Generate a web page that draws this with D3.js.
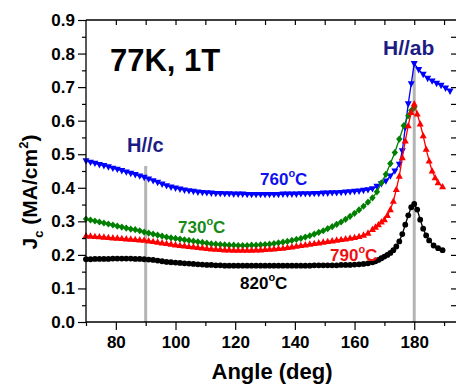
<!DOCTYPE html>
<html>
<head>
<meta charset="utf-8">
<script src="https://cdn.jsdelivr.net/npm/d3@7"></script>
<style>
  body { margin: 0; background: #fff; }
  svg text { font-family: Arial, "Liberation Sans", sans-serif; font-weight: bold; }
</style>
</head>
<body>
<div id="chart"></div>
<script>
// Data
const angles = [70, 71.5, 73, 74.5, 76, 77.5, 79, 80.5, 82, 83.5, 85, 86.5, 88, 89.5, 91, 92.5, 94, 95.5, 97, 98.5,
    100, 101.5, 103, 104.5, 106, 107.5, 109, 110.5, 112, 113.5, 115, 116.5, 118, 119.5, 121, 122.5, 124, 125.5, 127, 128.5,
    130, 131.5, 133, 134.5, 136, 137.5, 139, 140.5, 142, 143.5, 145, 146.5, 148, 149.5, 151, 152.5, 154, 155.5, 157, 158.5,
    160, 161.5, 163, 164.5, 166];

const jc760 = [0.480, 0.476, 0.473, 0.469, 0.466, 0.462, 0.458, 0.455, 0.451, 0.447, 0.443, 0.439, 0.435, 0.431, 0.426, 0.421, 0.416, 0.411, 0.406, 0.402,
    0.399, 0.396, 0.393, 0.391, 0.389, 0.387, 0.386, 0.385, 0.384, 0.383, 0.383, 0.382, 0.382, 0.381, 0.381, 0.381, 0.380, 0.380, 0.380, 0.380,
    0.380, 0.380, 0.380, 0.380, 0.381, 0.381, 0.381, 0.381, 0.382, 0.382, 0.382, 0.383, 0.383, 0.384, 0.384, 0.385, 0.385, 0.386, 0.387, 0.388,
    0.389, 0.390, 0.392, 0.394, 0.397];
const peak760Angles = [167.5, 169, 170.5, 172, 173.5, 175, 176, 177, 178, 179, 180, 181.5, 183, 184.5, 186, 187.5, 189, 190.5, 192];
const peak760 = [0.404, 0.412, 0.420, 0.435, 0.450, 0.470, 0.510, 0.580, 0.650, 0.710, 0.770, 0.752, 0.738, 0.726, 0.718, 0.711, 0.705, 0.697, 0.688];

const jc730 = [0.307, 0.304, 0.301, 0.298, 0.295, 0.292, 0.289, 0.286, 0.283, 0.280, 0.277, 0.275, 0.272, 0.268, 0.265, 0.262, 0.259, 0.256, 0.253, 0.251,
    0.249, 0.247, 0.245, 0.243, 0.241, 0.239, 0.237, 0.235, 0.233, 0.232, 0.231, 0.230, 0.229, 0.229, 0.228, 0.228, 0.228, 0.229, 0.229, 0.230,
    0.231, 0.232, 0.234, 0.236, 0.238, 0.240, 0.243, 0.246, 0.249, 0.253, 0.257, 0.262, 0.267, 0.272, 0.278, 0.284, 0.291, 0.298, 0.306, 0.315,
    0.324, 0.334, 0.345, 0.357, 0.370];
const peak730Angles = [167.5, 169, 170.5, 172, 173.5, 175, 176.5, 178, 179, 180];
const peak730 = [0.388, 0.415, 0.440, 0.472, 0.505, 0.545, 0.585, 0.615, 0.630, 0.640];

const jc790 = [0.257, 0.256, 0.255, 0.254, 0.253, 0.252, 0.251, 0.250, 0.249, 0.248, 0.247, 0.246, 0.245, 0.244, 0.242, 0.240, 0.238, 0.236, 0.234, 0.232,
    0.230, 0.228, 0.227, 0.225, 0.224, 0.222, 0.221, 0.219, 0.218, 0.217, 0.216, 0.215, 0.215, 0.214, 0.214, 0.214, 0.214, 0.214, 0.215, 0.215,
    0.216, 0.217, 0.218, 0.219, 0.220, 0.222, 0.224, 0.226, 0.228, 0.230, 0.232, 0.234, 0.236, 0.238, 0.240, 0.242, 0.244, 0.246, 0.248, 0.250,
    0.252, 0.255, 0.259, 0.265, 0.276];
const peak790Angles = [167, 168, 169, 170, 171, 172, 173, 174, 175, 176, 177, 178, 179, 180, 181, 182, 183, 184, 185, 186, 187, 188, 189.5];
const peak790 = [0.283, 0.290, 0.298, 0.305, 0.318, 0.335, 0.360, 0.395, 0.435, 0.490, 0.540, 0.585, 0.625, 0.650, 0.620, 0.590, 0.555, 0.515, 0.480, 0.450, 0.430, 0.415, 0.403];

const jc820 = [0.187, 0.187, 0.188, 0.188, 0.188, 0.188, 0.189, 0.189, 0.189, 0.189, 0.189, 0.188, 0.188, 0.187, 0.186, 0.185, 0.183, 0.181, 0.179, 0.178,
    0.177, 0.176, 0.175, 0.174, 0.173, 0.172, 0.171, 0.170, 0.170, 0.169, 0.169, 0.168, 0.168, 0.168, 0.168, 0.168, 0.168, 0.168, 0.168, 0.168,
    0.168, 0.168, 0.168, 0.168, 0.168, 0.168, 0.168, 0.168, 0.168, 0.168, 0.168, 0.169, 0.169, 0.169, 0.169, 0.169, 0.169, 0.170, 0.170, 0.170,
    0.171, 0.172, 0.173, 0.175, 0.178];
const peak820Angles = [167, 168, 169, 170, 171, 172, 173, 174, 175, 176, 177, 178, 179, 180, 181, 182, 183, 184, 185, 186.5, 188, 189.5];
const peak820 = [0.181, 0.185, 0.190, 0.195, 0.200, 0.206, 0.214, 0.225, 0.240, 0.262, 0.290, 0.318, 0.342, 0.352, 0.335, 0.305, 0.278, 0.258, 0.243, 0.228, 0.220, 0.214];

const xMajorTicks = [80, 100, 120, 140, 160, 180];
const xMinorTicks = [70, 90, 110, 130, 150, 170, 190];
const yMajorTicks = [0.0, 0.1, 0.2, 0.3, 0.4, 0.5, 0.6, 0.7, 0.8, 0.9];
const yMinorTicks = [0.05, 0.15, 0.25, 0.35, 0.45, 0.55, 0.65, 0.75, 0.85];
const guideAngles = [90, 180];
const guideTops = [0.465, 0.775];

// Build series
function series(base, peakA, peakV) {
    return angles.map((a, i) => ({ angle: a, value: base[i] }))
        .concat(peakA.map((a, i) => ({ angle: a, value: peakV[i] })));
}
const seriesList = [
    { name: "760", data: series(jc760, peak760Angles, peak760), color: "#0000ff", symbol: "down" },
    { name: "730", data: series(jc730, peak730Angles, peak730), color: "#008000", symbol: "diamond" },
    { name: "790", data: series(jc790, peak790Angles, peak790), color: "#ff0000", symbol: "up" },
    { name: "820", data: series(jc820, peak820Angles, peak820), color: "#000000", symbol: "circle" }
];

const W = 456, H = 385;
const svg = d3.select("#chart").append("svg")
    .attr("width", W)
    .attr("height", H);

const x = d3.scaleLinear().domain([70, 194]).range([86, 456]);
const y = d3.scaleLinear().domain([0, 0.9]).range([322, 20]);

// Grey guide lines (H//c and H//ab)
guideAngles.forEach((a, i) => {
    svg.append("line")
        .attr("x1", x(a)).attr("x2", x(a))
        .attr("y1", y(guideTops[i])).attr("y2", y(0))
        .style("stroke", "#b4b4b4")
        .style("stroke-width", 3);
});

// Lines and markers
const line = d3.line().x(d => x(d.angle)).y(d => y(d.value));
const tri = 7;
seriesList.forEach(s => {
    svg.append("path")
        .datum(s.data)
        .attr("d", line)
        .style("fill", "none")
        .style("stroke", s.color)
        .style("stroke-width", 1.3);

    const g = svg.append("g").style("fill", s.color);
    s.data.forEach(d => {
        const cx = x(d.angle), cy = y(d.value);
        if (s.symbol === "circle") {
            g.append("circle").attr("cx", cx).attr("cy", cy).attr("r", 2.9);
        } else if (s.symbol === "diamond") {
            g.append("path").attr("d", `M${cx},${cy - 3.6}L${cx + 3.2},${cy}L${cx},${cy + 3.6}L${cx - 3.2},${cy}Z`);
        } else if (s.symbol === "up") {
            g.append("path").attr("d", `M${cx},${cy - 3.8}L${cx + tri / 2},${cy + 2.6}L${cx - tri / 2},${cy + 2.6}Z`);
        } else {
            g.append("path").attr("d", `M${cx},${cy + 3.8}L${cx + tri / 2},${cy - 2.6}L${cx - tri / 2},${cy - 2.6}Z`);
        }
    });
});

// Axes
const axisStyle = g => {
    g.select(".domain").remove();
    g.selectAll(".tick line").style("stroke", "#000").style("stroke-width", 1.2);
    g.selectAll("text").style("font-size", "17px").style("fill", "#000");
};

svg.append("g")
    .attr("transform", "translate(0,322)")
    .call(d3.axisBottom(x).tickValues(xMajorTicks).tickSize(8).tickPadding(6).tickFormat(d3.format("d")))
    .call(axisStyle);
svg.append("g")
    .attr("transform", "translate(0,322)")
    .call(d3.axisBottom(x).tickValues(xMinorTicks).tickSize(4).tickFormat(""))
    .call(axisStyle);

svg.append("g")
    .attr("transform", "translate(86,0)")
    .call(d3.axisLeft(y).tickValues(yMajorTicks).tickSize(8).tickPadding(3).tickFormat(d3.format(".1f")))
    .call(axisStyle);
svg.append("g")
    .attr("transform", "translate(86,0)")
    .call(d3.axisLeft(y).tickValues(yMinorTicks).tickSize(4).tickFormat(""))
    .call(axisStyle);

// Mirror axes (ticks pointing inward)
svg.append("g")
    .attr("transform", "translate(0,20)")
    .call(d3.axisBottom(x).tickValues(xMajorTicks.concat(xMinorTicks).filter(d => d > 70)).tickSize(5).tickFormat(""))
    .call(axisStyle);
svg.append("g")
    .attr("transform", "translate(456,0)")
    .call(d3.axisLeft(y).tickValues(yMajorTicks.concat(yMinorTicks).filter(d => d > 0 && d < 0.9)).tickSize(5).tickFormat(""))
    .call(axisStyle);

// Frame
svg.append("path")
    .attr("d", `M86,20H456M86,20V322H456`)
    .style("fill", "none")
    .style("stroke", "#000")
    .style("stroke-width", 1.3);

// Axis titles
svg.append("text")
    .attr("x", 272)
    .attr("y", 379)
    .attr("text-anchor", "middle")
    .style("font-size", "22px")
    .text("Angle (deg)");

const yt = svg.append("text")
    .attr("transform", "translate(37,192) rotate(-90)")
    .attr("text-anchor", "middle")
    .style("font-size", "21px");
yt.append("tspan").text("J");
yt.append("tspan").attr("dy", 6).style("font-size", "13px").text("c");
yt.append("tspan").attr("dy", -6).text(" (MA/cm");
yt.append("tspan").attr("dy", -9).style("font-size", "13px").text("2");
yt.append("tspan").attr("dy", 9).text(")");

// Annotations
svg.append("text").attr("x", 110).attr("y", 71).style("font-size", "31px").text("77K, 1T");
svg.append("text").attr("x", 127).attr("y", 152).style("font-size", "20px").style("fill", "#1c1c84").text("H//c");
svg.append("text").attr("x", 383).attr("y", 55).style("font-size", "21px").style("fill", "#1c1c84").text("H//ab");

const tempLabels = [
    { text: "760", x: 260, y: 185, color: "#1010f0" },
    { text: "730", x: 178, y: 233, color: "#178a17" },
    { text: "790", x: 330, y: 261, color: "#f01010" },
    { text: "820", x: 240, y: 289, color: "#000000" }
];
tempLabels.forEach(l => {
    const t = svg.append("text").attr("x", l.x).attr("y", l.y)
        .style("font-size", "17px").style("fill", l.color);
    t.append("tspan").text(l.text);
    t.append("tspan").attr("dy", -8).style("font-size", "11px").text("o");
    t.append("tspan").attr("dy", 8).text("C");
});
</script>
</body>
</html>
